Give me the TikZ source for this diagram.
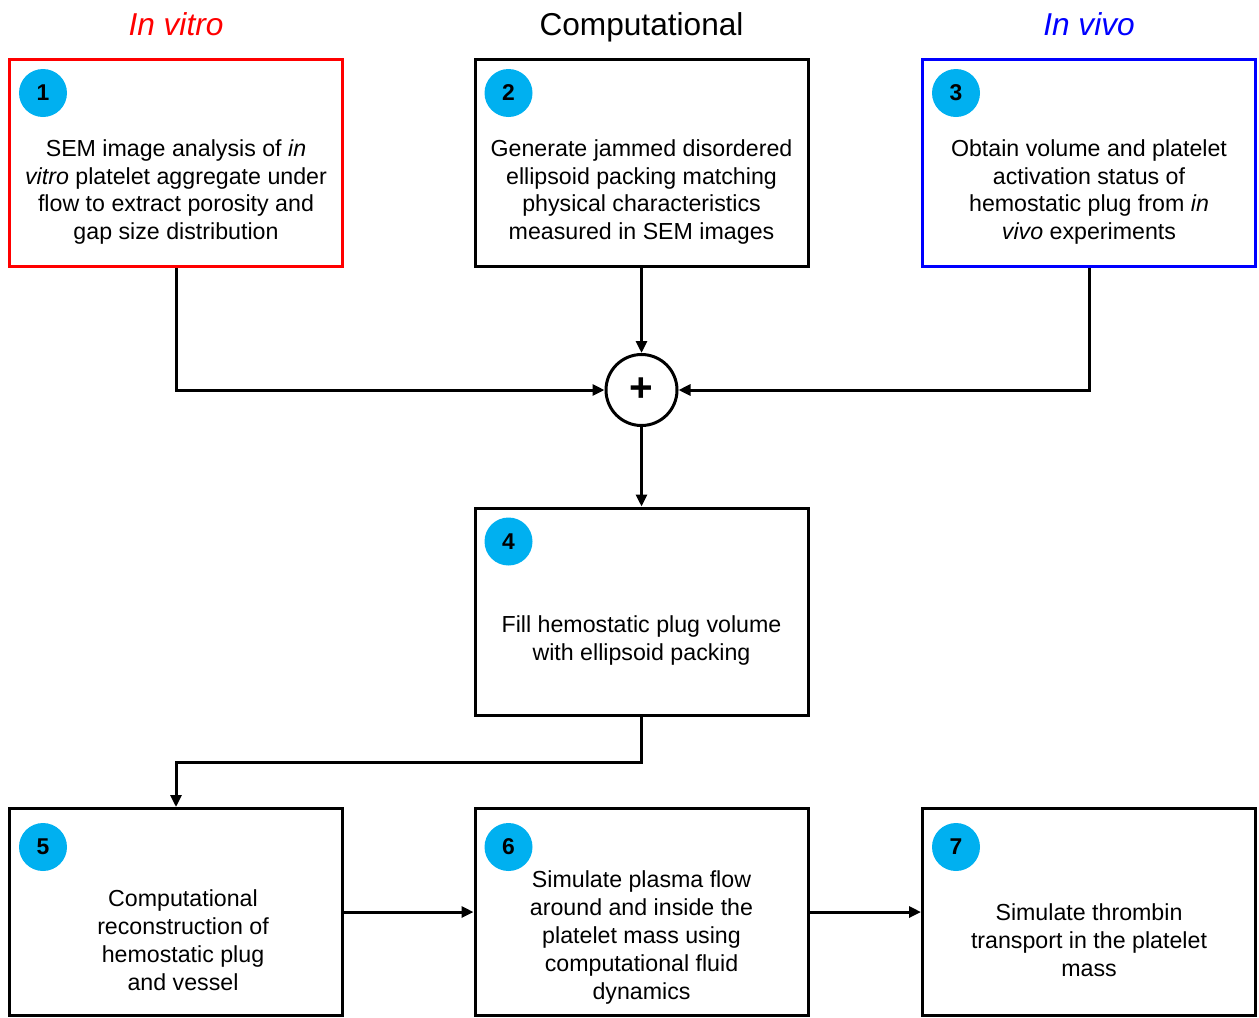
\documentclass[tikz,border=0pt]{standalone}
\usepackage{fontspec}
\setmainfont{Liberation Sans}
\usetikzlibrary{arrows.meta}
\definecolor{badgeblue}{RGB}{0,176,240}

\begin{document}
\begin{tikzpicture}[
    box/.style={draw, line width=0.06cm, minimum width=6.66cm, minimum height=4.14cm, inner sep=0},
    boxtext/.style={align=center, font=\fontsize{13.2}{15.9}\selectfont},
    badge/.style={circle, fill=badgeblue, minimum size=0.96cm, inner sep=0, font=\fontsize{13}{15}\selectfont\bfseries},
    heading/.style={anchor=base, font=\fontsize{18}{22}\selectfont},
    link/.style={line width=0.06cm, -{Triangle[length=0.24cm, width=0.22cm]}}]
    \useasboundingbox (0,0) rectangle (25.18,-20.34);
    \node [heading, red] (vitro) at (3.52,-0.7) {\itshape In vitro};
    \node [heading] (comp) at (12.83,-0.7) {Computational};
    \node [heading, blue] (vivo) at (21.78,-0.7) {\itshape In vivo};

    \node [box, red] (box1) at (3.52,-3.26) {};
    \node [box] (box2) at (12.83,-3.26) {};
    \node [box, blue] (box3) at (21.78,-3.26) {};
    \node [box] (box4) at (12.83,-12.23) {};
    \node [box] (box5) at (3.52,-18.24) {};
    \node [box] (box6) at (12.83,-18.24) {};
    \node [box] (box7) at (21.78,-18.24) {};

    \node [badge] (num1) at ([shift={(0.7,-0.7)}]box1.north west) {1};
    \node [badge] (num2) at ([shift={(0.7,-0.7)}]box2.north west) {2};
    \node [badge] (num3) at ([shift={(0.7,-0.7)}]box3.north west) {3};
    \node [badge] (num4) at ([shift={(0.7,-0.7)}]box4.north west) {4};
    \node [badge] (num5) at ([shift={(0.7,-0.8)}]box5.north west) {5};
    \node [badge] (num6) at ([shift={(0.7,-0.8)}]box6.north west) {6};
    \node [badge] (num7) at ([shift={(0.7,-0.8)}]box7.north west) {7};

    \node [boxtext] (text1) at ([yshift=-0.58cm]box1.center) {SEM image analysis of \textit{in}\\\textit{vitro} platelet aggregate under\\flow to extract porosity and\\gap size distribution};
    \node [boxtext] (text2) at ([yshift=-0.58cm]box2.center) {Generate jammed disordered\\ellipsoid packing matching\\physical characteristics\\measured in SEM images};
    \node [boxtext] (text3) at ([yshift=-0.58cm]box3.center) {Obtain volume and platelet\\activation status of\\hemostatic plug from \textit{in}\\\textit{vivo} experiments};
    \node [boxtext] (text4) at ([yshift=-0.58cm]box4.center) {Fill hemostatic plug volume\\with ellipsoid packing};
    \node [boxtext] (text5) at ([shift={(0.14,-0.56)}]box5.center) {Computational\\reconstruction of\\hemostatic plug\\and vessel};
    \node [boxtext] (text6) at ([yshift=-0.51cm]box6.center) {Simulate plasma flow\\around and inside the\\platelet mass using\\computational fluid\\dynamics};
    \node [boxtext] (text7) at ([yshift=-0.56cm]box7.center) {Simulate thrombin\\transport in the platelet\\mass};

    \node [draw, circle, line width=0.06cm, minimum size=1.42cm, inner sep=0, font=\fontsize{23}{27}\selectfont\bfseries] (plus) at (12.83,-7.8) {+};

    \draw [link] (box1.south) |- (plus.west);
    \draw [link] (box2.south) -- (plus.north);
    \draw [link] (box3.south) |- (plus.east);
    \draw [link] (plus.south) -- (box4.north);
    \draw [link] (box4.south) -- ++(0,-0.92) -| (box5.north);
    \draw [link] (box5.east) -- (box6.west);
    \draw [link] (box6.east) -- (box7.west);
\end{tikzpicture}
\end{document}
